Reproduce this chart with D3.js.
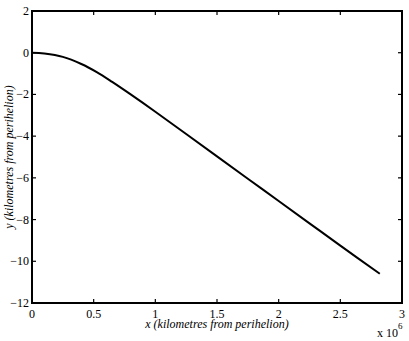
<!DOCTYPE html>
<html>
<head>
<meta charset="utf-8">
<script src="https://cdn.jsdelivr.net/npm/d3@7"></script>
<style>
  body { margin: 0; background: #fff; }
</style>
</head>
<body>
<div id="chart"></div>
<script>
// distance along x in units of 1e6 km, y in km
const xVals = [0, 0.1, 0.25, 0.4, 0.525, 0.65, 0.8, 1.0, 1.25, 1.5, 1.75, 2.0, 2.25, 2.5, 2.82];
const yVals = [0, -0.04, -0.2, -0.54, -0.93, -1.4, -2.0, -2.83, -3.9, -4.97, -6.04, -7.11, -8.18, -9.25, -10.6];
const xTicks = [0, 0.5, 1, 1.5, 2, 2.5, 3];
const yTicks = [2, 0, -2, -4, -6, -8, -10, -12];

const width = 409, height = 341;
const margin = { left: 32, right: 7, top: 11, bottom: 38 };
const serif = '"Liberation Serif", "Times New Roman", Times, serif';

const svg = d3.select('#chart').append('svg')
  .attr('width', width).attr('height', height)
  .attr('font-family', serif);

const x = d3.scaleLinear().domain([0, 3]).range([margin.left, width - margin.right]);
const y = d3.scaleLinear().domain([-12, 2]).range([height - margin.bottom, margin.top]);

const fmt = d => d < 0 ? '\u2212' + Math.abs(d) : String(d);

// ticks pointing inward on all four sides
const tickLen = 4;
const g = svg.append('g');
g.selectAll('line.xb').data(xTicks).join('line')
  .attr('x1', d => x(d)).attr('x2', d => x(d))
  .attr('y1', y(-12)).attr('y2', y(-12) - tickLen);
g.selectAll('line.xt').data(xTicks).join('line')
  .attr('x1', d => x(d)).attr('x2', d => x(d))
  .attr('y1', y(2)).attr('y2', y(2) + tickLen);
g.selectAll('line.yl').data(yTicks).join('line')
  .attr('y1', d => y(d)).attr('y2', d => y(d))
  .attr('x1', x(0)).attr('x2', x(0) + tickLen);
g.selectAll('line.yr').data(yTicks).join('line')
  .attr('y1', d => y(d)).attr('y2', d => y(d))
  .attr('x1', x(3)).attr('x2', x(3) - tickLen);
g.selectAll('line').attr('stroke', '#000').attr('stroke-width', 1.2);

svg.append('rect')
  .attr('x', x(0)).attr('y', y(2))
  .attr('width', x(3) - x(0)).attr('height', y(-12) - y(2))
  .attr('fill', 'none').attr('stroke', '#000').attr('stroke-width', 2);

// tick labels
svg.append('g').selectAll('text').data(xTicks).join('text')
  .attr('x', d => x(d)).attr('y', y(-12) + 15)
  .attr('text-anchor', 'middle').attr('font-size', 12)
  .text(d => String(d));
svg.append('g').selectAll('text').data(yTicks).join('text')
  .attr('x', x(0) - 3).attr('y', d => y(d) + 4)
  .attr('text-anchor', 'end').attr('font-size', 12)
  .text(fmt);

// curve
const pts = xVals.map((v, i) => [v, yVals[i]]);
svg.append('path')
  .datum(pts)
  .attr('fill', 'none').attr('stroke', '#000').attr('stroke-width', 2)
  .attr('d', d3.line().x(d => x(d[0])).y(d => y(d[1])).curve(d3.curveCatmullRom));

// axis titles
svg.append('text')
  .attr('x', (x(0) + x(3)) / 2).attr('y', y(-12) + 25)
  .attr('text-anchor', 'middle').attr('font-size', 12).attr('font-style', 'italic')
  .text('x (kilometres from perihelion)');
svg.append('text')
  .attr('transform', `translate(13,${(y(2) + y(-12)) / 2}) rotate(-90)`)
  .attr('text-anchor', 'middle').attr('font-size', 12).attr('font-style', 'italic')
  .text('y (kilometres from perihelion)');

// exponent label
const ex = svg.append('text').attr('x', 377).attr('y', 337).attr('font-size', 12);
ex.append('tspan').text('x 10');
ex.append('tspan').attr('dy', -8).attr('font-size', 9).text('6');
</script>
</body>
</html>
